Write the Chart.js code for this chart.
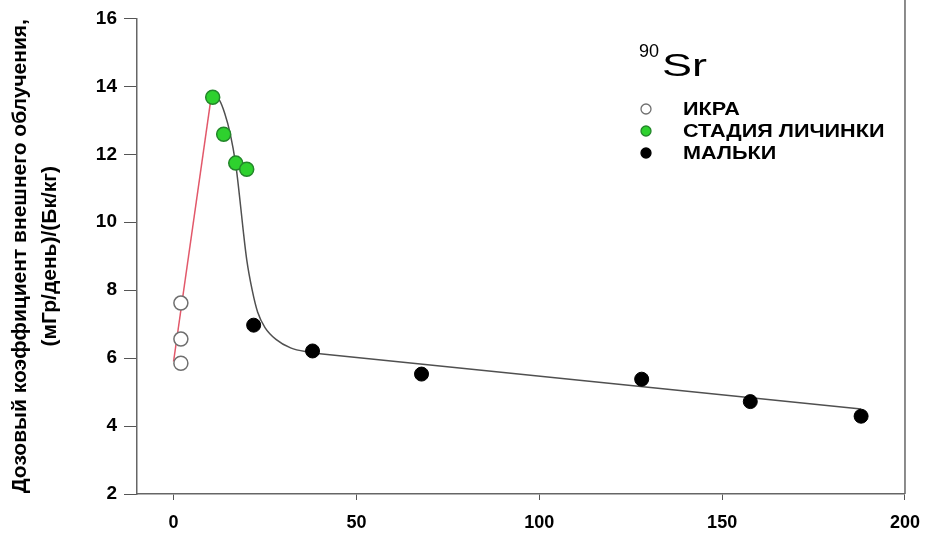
<!DOCTYPE html>
<html>
<head>
<meta charset="utf-8">
<script src="https://cdn.jsdelivr.net/npm/chart.js"></script>
<style>
  html, body { margin: 0; padding: 0; background: #fff; }
  #wrap { width: 932px; height: 533px; }
</style>
</head>
<body>
<div id="wrap"><canvas id="srChart" width="932" height="533"></canvas></div>
<script>
  // ages (days) and dose coefficients
  const ikraX = [2, 2, 2];
  const ikraY = [7.62, 6.56, 5.85];
  const larvaX = [10.7, 13.7, 17, 20];
  const larvaY = [13.68, 12.59, 11.74, 11.56];
  const fryX = [21.9, 38, 67.8, 128, 157.7, 188];
  const fryY = [6.97, 6.21, 5.53, 5.38, 4.72, 4.29];

  // fitted curves
  const redFitX = [0, 10.3];
  const redFitY = [5.9, 13.7];
  const blackCurveX = [10.8, 12.5, 14, 15.5, 17, 18, 19, 20, 21.5, 23, 25, 28, 32, 38];
  const blackCurveY = [13.75, 13.6, 13.2, 12.6, 11.7, 10.8, 9.8, 8.9, 8.0, 7.35, 6.9, 6.55, 6.3, 6.15];
  const blackLineX = [38, 188];
  const blackLineY = [6.15, 4.5];

  const xTicks = [0, 50, 100, 150, 200];
  const yTicks = [2, 4, 6, 8, 10, 12, 14, 16];
  const legendLabels = ['ИКРА', 'СТАДИЯ ЛИЧИНКИ', 'МАЛЬКИ'];
  const yTitle = ['Дозовый коэффициент внешнего облучения,', '(мГр/день)/(Бк/кг)'];

  const pairs = (xs, ys) => xs.map((x, i) => ({ x: x, y: ys[i] }));

  const markerStyles = [
    { bg: '#ffffff', border: '#6f6f6f' },
    { bg: '#2ed12e', border: '#23862a' },
    { bg: '#000000', border: '#000000' }
  ];

  const fontFamily = '"Liberation Sans", Arial, sans-serif';

  const legendPlugin = {
    id: 'srLegend',
    afterDraw(chart) {
      const ctx = chart.ctx;
      const area = chart.chartArea;
      ctx.save();

      // right frame line runs up to the top of the picture
      ctx.strokeStyle = '#666';
      ctx.lineWidth = 1.5;
      ctx.beginPath();
      ctx.moveTo(area.right, 0);
      ctx.lineTo(area.right, area.bottom);
      ctx.stroke();

      ctx.fillStyle = '#000';
      ctx.textBaseline = 'alphabetic';
      ctx.font = '18px ' + fontFamily;
      ctx.fillText('90', 639, 57);
      ctx.save();
      ctx.translate(662, 76);
      ctx.scale(1.45, 1);
      ctx.font = '31px ' + fontFamily;
      ctx.fillText('Sr', 0, 0);
      ctx.restore();

      ctx.textBaseline = 'middle';
      legendLabels.forEach((label, i) => {
        const y = 109 + i * 22;
        ctx.beginPath();
        ctx.arc(646, y, 5, 0, Math.PI * 2);
        ctx.fillStyle = markerStyles[i].bg;
        ctx.fill();
        ctx.lineWidth = 1.3;
        ctx.strokeStyle = markerStyles[i].border;
        ctx.stroke();
        ctx.save();
        ctx.translate(683, y + 1);
        ctx.scale(1.2, 1);
        ctx.fillStyle = '#000';
        ctx.font = 'bold 18px ' + fontFamily;
        ctx.fillText(label, 0, 0);
        ctx.restore();
      });
      ctx.restore();
    }
  };

  const ctx = document.getElementById('srChart').getContext('2d');
  new Chart(ctx, {
    type: 'scatter',
    data: {
      datasets: [
        {
          label: 'fit1',
          data: pairs(redFitX, redFitY),
          showLine: true,
          borderColor: '#e2586a',
          borderWidth: 1.5,
          pointRadius: 0,
          order: 5
        },
        {
          label: 'fit2',
          data: pairs(blackCurveX, blackCurveY),
          showLine: true,
          borderColor: '#505050',
          borderWidth: 1.5,
          cubicInterpolationMode: 'monotone',
          pointRadius: 0,
          order: 4
        },
        {
          label: 'fit3',
          data: pairs(blackLineX, blackLineY),
          showLine: true,
          borderColor: '#505050',
          borderWidth: 1.5,
          pointRadius: 0,
          order: 4
        },
        {
          label: legendLabels[0],
          data: pairs(ikraX, ikraY),
          backgroundColor: markerStyles[0].bg,
          borderColor: markerStyles[0].border,
          borderWidth: 1.5,
          pointRadius: 7,
          order: 1
        },
        {
          label: legendLabels[1],
          data: pairs(larvaX, larvaY),
          backgroundColor: markerStyles[1].bg,
          borderColor: markerStyles[1].border,
          borderWidth: 1.5,
          pointRadius: 7,
          order: 1
        },
        {
          label: legendLabels[2],
          data: pairs(fryX, fryY),
          backgroundColor: markerStyles[2].bg,
          borderColor: markerStyles[2].border,
          borderWidth: 1,
          pointRadius: 7,
          order: 1
        }
      ]
    },
    options: {
      responsive: false,
      animation: false,
      layout: { padding: { top: 18, right: 26, left: 0, bottom: 0 } },
      plugins: {
        legend: { display: false },
        tooltip: { enabled: false }
      },
      scales: {
        x: {
          type: 'linear',
          min: -10,
          max: 200,
          afterBuildTicks(axis) { axis.ticks = xTicks.map(v => ({ value: v })); },
          afterFit(axis) { axis.height = 39; },
          grid: { drawOnChartArea: false, drawTicks: true, tickLength: 6, color: '#555' },
          border: { color: '#666', width: 1.5 },
          ticks: {
            color: '#000',
            font: { family: fontFamily, size: 18, weight: 'bold' },
            padding: 12
          }
        },
        y: {
          min: 2,
          max: 16,
          afterBuildTicks(axis) { axis.ticks = yTicks.map(v => ({ value: v })); },
          afterFit(axis) { axis.width = 137; },
          grid: { drawOnChartArea: false, drawTicks: true, tickLength: 13, color: '#555' },
          border: { color: '#666', width: 1.5 },
          ticks: {
            color: '#000',
            font: { family: fontFamily, size: 19, weight: 'bold' },
            padding: 7
          },
          title: {
            display: true,
            text: yTitle,
            color: '#000',
            font: { family: fontFamily, size: 21, weight: 'bold', lineHeight: 1.45 },
            padding: { top: 5, bottom: 0 }
          }
        }
      }
    },
    plugins: [legendPlugin]
  });
</script>
</body>
</html>
